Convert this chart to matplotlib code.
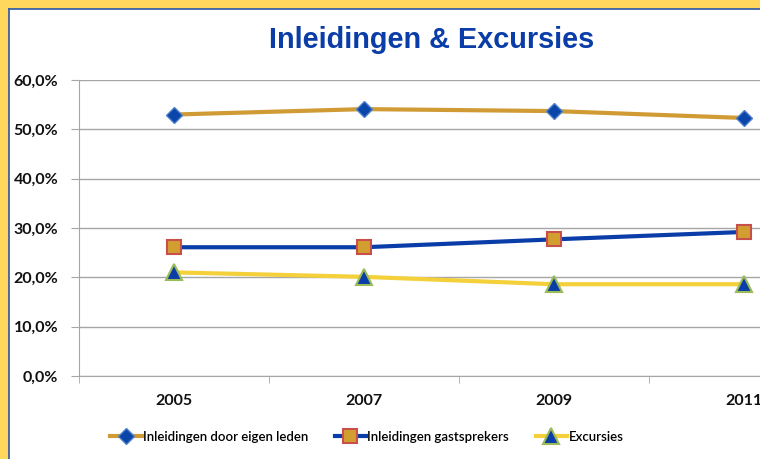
import numpy as np
import matplotlib
matplotlib.use('Agg')
import matplotlib.pyplot as plt
from matplotlib.patches import Rectangle
from matplotlib.lines import Line2D
from matplotlib.ticker import FuncFormatter

# data
years = ['2005', '2007', '2009', '2011']
eigen_leden = [53.0, 54.1, 53.7, 52.3]
gastsprekers = [26.1, 26.1, 27.7, 29.2]
excursies = [21.0, 20.1, 18.6, 18.6]
labels = ['Inleidingen door eigen leden', 'Inleidingen gastsprekers', 'Excursies']
title = 'Inleidingen & Excursies'

# fig config
W, H = 760, 459
dpi = 100
bg_yellow = '#FFD75C'
frame_blue = '#2A55A8'
grid_col = '#A6A6A6'
fsize_tick = 11.5
fsize_leg = 9.5

fig = plt.figure(figsize=(W/dpi, H/dpi), dpi=dpi)
fig.patch.set_facecolor(bg_yellow)
# white chart area with thin blue border at top/left
fig.patches.append(Rectangle((9/W, 0), 1, 1-9/H, transform=fig.transFigure,
                             facecolor='white', edgecolor='none', zorder=-5))
fig.lines.append(Line2D([9/W, 9/W], [0, 1-9/H], transform=fig.transFigure, color=frame_blue, lw=1.2, zorder=-4))
fig.lines.append(Line2D([9/W, 1], [1-9/H, 1-9/H], transform=fig.transFigure, color=frame_blue, lw=1.2, zorder=-4))

ax = fig.add_axes([79/W, 1-376/H, 760/W, 296/H])
ax.set_facecolor('none')
x = np.arange(len(years))

ax.plot(x, eigen_leden, color='#D09A35', lw=3, marker='D', ms=8,
        mfc='#0A46AA', mec='#4F7FC8', mew=1, label=labels[0], zorder=3)
ax.plot(x, gastsprekers, color='#0A3DA8', lw=3, marker='s', ms=10,
        mfc='#D39E30', mec='#C9504A', mew=1.5, label=labels[1], zorder=3)
ax.plot(x, excursies, color='#F4D03A', lw=3, marker='^', ms=11,
        mfc='#0A3DA8', mec='#9BBB59', mew=1.5, label=labels[2], zorder=3)

ax.set_xlim(-0.5, len(years)-0.5)
ax.set_ylim(0, 60)
ax.set_yticks(np.arange(0, 61, 10))
ax.yaxis.set_major_formatter(FuncFormatter(lambda v, p: ('%.1f%%' % v).replace('.', ',')))
ax.yaxis.grid(True, color=grid_col, lw=1)
ax.set_axisbelow(True)
ax.set_xticks(x)
ax.set_xticklabels(years)
ax.set_xticks(np.arange(-0.5, len(years), 1), minor=True)
ax.tick_params(axis='x', which='major', length=0, pad=13)
ax.tick_params(axis='x', which='minor', length=5, color=grid_col)
ax.tick_params(axis='y', length=6, color=grid_col, pad=9)
for s in ['top', 'right']:
    ax.spines[s].set_visible(False)
for s in ['left', 'bottom']:
    ax.spines[s].set_color(grid_col)
for lab in ax.get_xticklabels() + ax.get_yticklabels():
    lab.set_fontfamily(['Lato', 'DejaVu Sans'])
    lab.set_fontweight('bold')
    lab.set_fontsize(fsize_tick)
    lab.set_color('#111111')

fig.text(432/W, 1-40/H, title, ha='center', va='center', fontsize=20.8,
         fontweight='bold', color='#0A3DA8', family=['Liberation Sans', 'DejaVu Sans'])

leg = fig.legend(loc='center left', bbox_to_anchor=(98/W, 1-437/H), ncol=3,
                 frameon=False, handlelength=2.4, handletextpad=0.1, columnspacing=2.0,
                 prop={'family': ['Lato', 'DejaVu Sans'], 'size': fsize_leg, 'weight': 'semibold'})

fig.savefig('out.png', dpi=dpi, facecolor=fig.get_facecolor())
